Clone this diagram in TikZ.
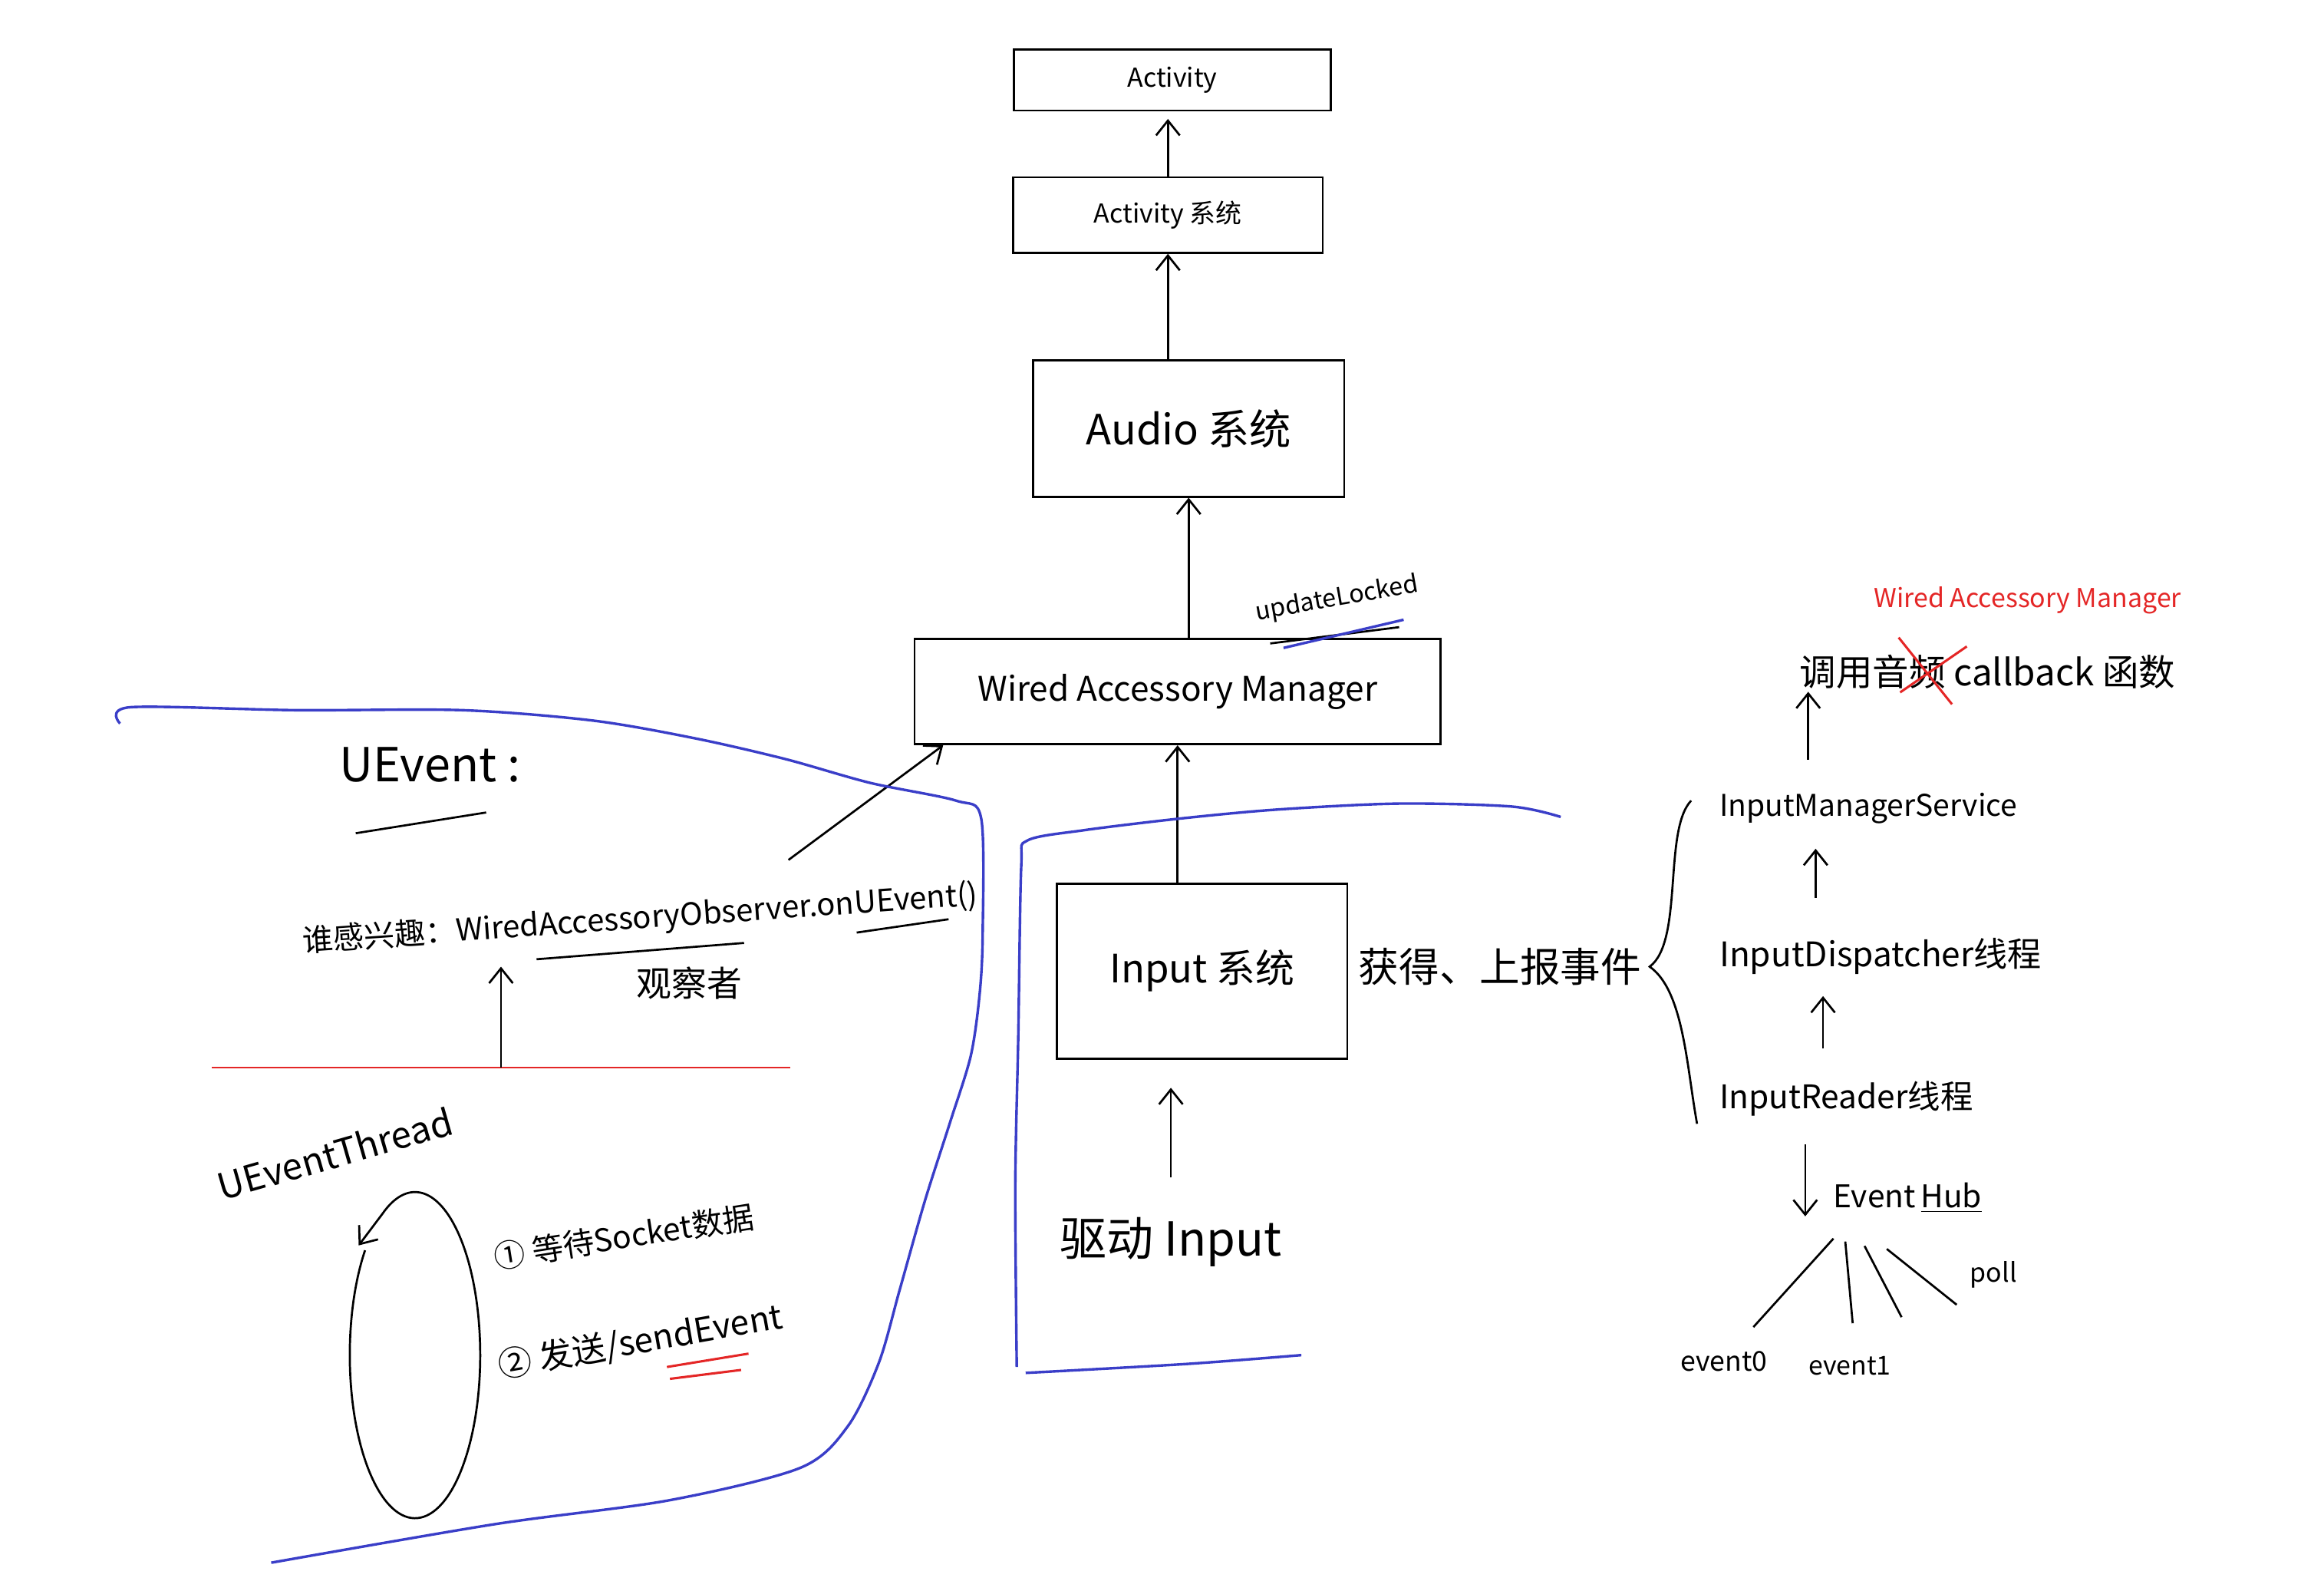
\documentclass[tikz,border=0pt]{standalone}
\usepackage{fontspec}
\newfontfamily\cjk{Noto Sans CJK SC}
\usetikzlibrary{arrows.meta, positioning, calc}
\definecolor{sketchblue}{RGB}{58,62,200}
\definecolor{sketchred}{RGB}{228,38,38}
\newcommand{\fsz}[1]{\fontsize{#1}{#1}\selectfont}

\begin{document}
\begin{tikzpicture}[
  x=0.02cm, y=-0.02cm,
  sysbox/.style={draw, line width=0.8pt, inner sep=0pt, font=\cjk},
  hand/.style={font=\cjk, inner sep=1pt},
  pen/.style={line width=0.8pt},
  arr/.style={-{Straight Barb[length=2mm, width=3.2mm]}, line width=0.8pt},
  zone/.style={draw=sketchblue, line width=1pt},
  redpen/.style={draw=sketchred, line width=0.9pt}
]
\useasboundingbox (0,0) rectangle (1568,1073);

% Boxes
\node[sysbox, minimum width=4.28cm, minimum height=0.82cm] (act) at (791,54) {\fsz{10}Activity};
\node[sysbox, minimum width=4.18cm, minimum height=1.02cm] (acts) at (788,145) {\fsz{10}Activity 系统};
\node[sysbox, minimum width=4.2cm, minimum height=1.84cm] (audio) at (802,289) {\fsz{16}Audio 系统};
\node[sysbox, minimum width=7.1cm, minimum height=1.42cm] (wam) at (794.5,466.5) {\fsz{13}Wired Accessory Manager};
\node[sysbox, minimum width=3.92cm, minimum height=2.36cm] (input) at (811,655) {\fsz{15}Input 系统};

\node[hand, rotate=10] (upd) at (902,404) {\fsz{9.5}updateLocked};
\draw[pen] (857,434) -- (944,423);
\draw[zone] (866,437) -- (947,418);

\node[hand] (drv) at (790,838) {\fsz{18}驱动 Input};
\node[hand] (report) at (1012,652) {\fsz{15.5}获得、上报事件};

% Flow
\draw[arr, shorten >=0.1cm] (acts.north) -- (acts.north |- act.south);
\draw[arr] (acts.south |- audio.north) -- (acts.south);
\draw[arr] (audio.south |- wam.north) -- (audio.south);
\draw[arr] (input.north -| wam.south) -- (wam.south);
\draw[arr, shorten <=0.5cm, shorten >=0.38cm] (drv.north) -- (drv.north |- input.south);

% Brace
\draw[pen] (1141,540) .. controls (1122,560) and (1136,635) .. (1113,652)
  .. controls (1136,668) and (1138,720) .. (1145,758);

% Input chain
\node[hand, text=sketchred] (redwam) at (1368,405) {\fsz{10}Wired Accessory Manager};
\node[hand] (callb) at (1341,453) {\fsz{14}调用音频 callback 函数};
\draw[redpen] (1282,467) -- (1327,436);
\draw[redpen] (1281,430) -- (1317,475);
\node[hand, anchor=west] (ims) at (1158,545) {\fsz{11.5}InputManagerService};
\node[hand, anchor=west] (idis) at (1158,645) {\fsz{13}InputDispatcher线程};
\node[hand, anchor=west] (ird) at (1158,741) {\fsz{12.5}InputReader线程};
\node[hand] (hub) at (1287,808) {\fsz{12}Event\,\underline{Hub}};
\node[hand] (poll) at (1345,860) {\fsz{10}poll};
\node[hand] (ev0) at (1163,918) {\fsz{10.5}event0};
\node[hand] (ev1) at (1248,921) {\fsz{10}event1};

\draw[arr, shorten <=0.4cm] ([xshift=1.24cm]ims.north west) -- ([xshift=1.24cm]ims.north west |- callb.south);
\draw[arr, shorten <=0.5cm, shorten >=0.3cm] ([xshift=1.34cm]idis.north west) -- ([xshift=1.34cm]idis.north west |- ims.south);
\draw[arr, shorten <=0.4cm, shorten >=0.25cm] ([xshift=1.44cm]ird.north west) -- ([xshift=1.44cm]ird.north west |- idis.south);
\draw[arr, shorten <=0.34cm] ([xshift=1.2cm]ird.south west) -- ([xshift=1.2cm]ird.south west |- hub.south);

\draw[pen] ($(hub.south)+(-50,15)$) -- ($(ev0.north)+(20,-14)$);
\draw[pen] ($(hub.south)+(-42,17)$) -- ($(ev1.north)+(2,-20)$);
\draw[pen] ($(hub.south)+(-29,20)$) -- ++(25,48);
\draw[pen] ($(hub.south)+(-14,22)$) -- ($(poll.west)+(-7,20)$);

% UEvent side
\node[hand] (uev) at (290,516) {\fsz{18}UEvent :};
\draw[pen] (240,562) -- (328,548);
\node[hand, rotate=4] (obs) at (432,620) {\fsz{11.8}谁感兴趣：WiredAccessoryObserver.onUEvent()};
\draw[pen] (362,647) -- (502,636);
\draw[pen] (578,629) -- (640,620);
\node[hand] (watcher) at (465,663) {\fsz{13.5}观察者};
\coordinate (obsTail) at (532,580);
\draw[arr] (obsTail) -- ($(wam.south west)+(20,0)$);

\coordinate (cutL) at (143,720);
\coordinate (cutR) at (533,720);
\draw[redpen, line width=0.8pt] (cutL) -- (cutR);
\draw[arr] ($(cutL)!0.5!(cutR)$) -- ++(0,-68);

\node[hand, rotate=16] (thr) at (226,778) {\fsz{14}UEventThread};
\coordinate (loopc) at (280,914);
\draw[arr] ($(loopc)+(-140:44 and 110)$) arc[start angle=-140, end angle=-480, x radius=44, y radius=110] -- (242,840);
\node[hand, rotate=9] (step1) at (421,834) {\fsz{12}① 等待Socket数据};
\node[hand, rotate=10] (step2) at (432,905) {\fsz{13}② 发送/sendEvent};
\draw[redpen] (450,922) -- (505,913);
\draw[redpen] (452,930) -- (500,924);

% Regions
\draw[zone] plot[smooth, tension=0.5] coordinates {(81,488) (88,477) (200,479) (312,479) (400,486) (469,498) (530,512) (587,528) (645,540) (662,552) (663,630) (661,670) (655,712) (641,757) (624,810) (607,870) (593,919) (572,962) (540,990) (451,1012) (334,1028) (183,1054)};
\draw[zone] plot[smooth, tension=0.5] coordinates {(1053,551) (1020,544) (944,542) (862,546) (797,552) (731,560) (693,567) (689,585) (687,700) (685,800) (686,922)};
\draw[zone] plot[smooth, tension=0.5] coordinates {(692,926) (800,920) (878,914)};
\end{tikzpicture}
\end{document}
